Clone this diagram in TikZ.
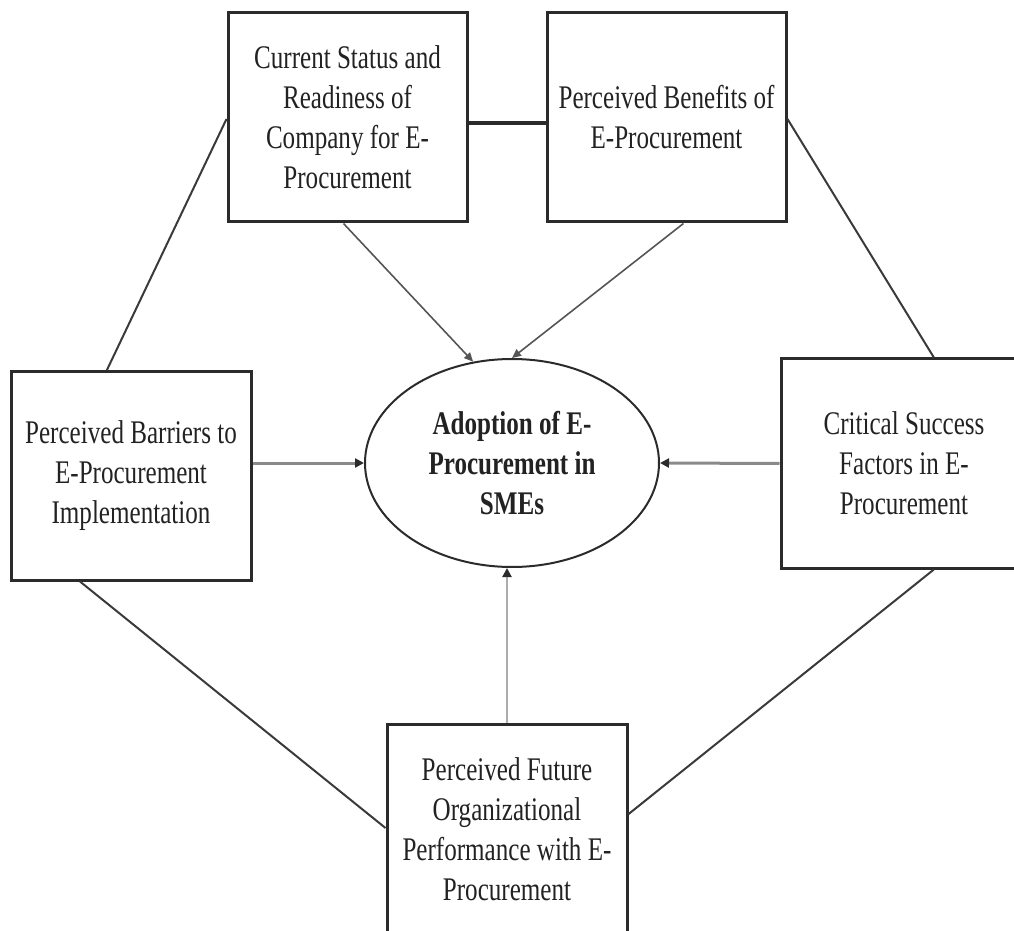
\documentclass[tikz,border=0pt]{standalone}
\usepackage{fontspec}
\setmainfont[FakeStretch=0.76]{Liberation Serif}
\usetikzlibrary{arrows.meta,calc,shapes.geometric}

\definecolor{inkline}{HTML}{2B2B2B}
\definecolor{linkline}{HTML}{3A3A3A}
\definecolor{arrowgray}{HTML}{555555}
\definecolor{lightarrow}{HTML}{8A8A8A}
\definecolor{textink}{HTML}{222222}

\begin{document}
\begin{tikzpicture}[x=0.5pt,y=-0.5pt,
  box/.style={draw=inkline, line width=1.5pt, rectangle, inner sep=0pt,
    align=center, text=textink, font=\fontsize{16.5}{20}\selectfont},
  goal/.style={draw=inkline, line width=1pt, ellipse, inner sep=0pt,
    align=center, text=textink, font=\fontsize{16.5}{20}\selectfont\bfseries},
  link/.style={draw=linkline, line width=1pt},
  feed/.style={draw=arrowgray, line width=0.8pt,
    -{Triangle[length=4.5pt,width=4pt]}},
  sidefeed/.style={draw=lightarrow, line width=1.5pt,
    -{Triangle[length=4.5pt,width=4.5pt,fill=inkline,color=inkline]}},
  upfeed/.style={draw=lightarrow!70, line width=1pt,
    -{Triangle[length=4.5pt,width=4.5pt,fill=inkline,color=inkline]}}
]
\useasboundingbox (0,0) rectangle (1014,931);
\clip (0,0) rectangle (1014,931);

% factor boxes
\node[box, minimum width=119.5pt, minimum height=104.5pt] (cur) at (347.5,117.5)
  {Current Status and\\Readiness of\\Company for E-\\Procurement};
\node[box, minimum width=119.5pt, minimum height=104.5pt] (ben) at (666.5,117.5)
  {Perceived Benefits of\\E-Procurement};
\node[box, minimum width=120pt, minimum height=104pt] (bar) at (131,476)
  {Perceived Barriers to\\E-Procurement\\Implementation};
\node[box, minimum width=123pt, minimum height=104.5pt] (csf) at (904,463.5)
  {Critical Success\\Factors in E-\\Procurement};
\node[box, minimum width=120pt, minimum height=105pt] (fut) at (507,829)
  {Perceived Future\\Organizational\\Performance with E-\\Procurement};

% central construct
\node[goal, minimum width=147pt, minimum height=104pt] (ell) at (512,463)
  {Adoption of E-\\Procurement in\\SMEs};

% outer ring of links
\draw[draw=inkline, line width=2pt] ([yshift=-2.75pt]cur.east) -- ([yshift=-2.75pt]ben.west);
\draw[link] ([yshift=-0.75pt]cur.west) -- ($(bar.north west)!0.4!(bar.north east)$);
\draw[link] ([yshift=-0.75pt]ben.east) -- ($(csf.north west)!0.62!(csf.north east)$);
\draw[link] ($(bar.south west)!0.29!(bar.south east)$) -- ([yshift=0.5pt]fut.west);
\draw[link] ($(csf.south west)!0.62!(csf.south east)$) -- ($(fut.north east)!0.43!(fut.south east)$);

% influences on adoption
\draw[feed] ([xshift=-2pt]cur.south) -- (ell.111);
\draw[feed] ($(ben.south west)!0.57!(ben.south east)$) -- (ell.north);
\draw[sidefeed] (ell.west -| bar.east) -- (ell.west);
\draw[sidefeed] (csf.west) -- (ell.east);
\draw[upfeed] (fut.north) -- (fut.north |- ell.south);
\end{tikzpicture}
\end{document}
